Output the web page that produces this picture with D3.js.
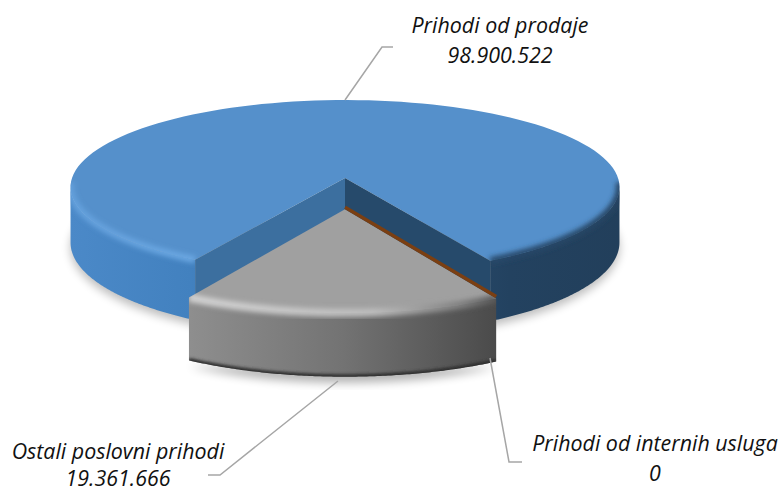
<!DOCTYPE html>
<html>
<head>
<meta charset="utf-8">
<script src="https://cdn.jsdelivr.net/npm/d3@7"></script>
<style>
html,body{margin:0;padding:0;background:#fff;}
svg{display:block;}
text{font-family:"Open Sans",sans-serif;font-style:italic;font-size:21.4px;fill:#111;}
</style>
</head>
<body>
<svg id="c" width="781" height="492"></svg>
<script>
const categories = ["Prihodi od prodaje", "Prihodi od internih usluga", "Ostali poslovni prihodi"];
const values = [98900522, 0, 19361666];
const valueLabels = ["98.900.522", "0", "19.361.666"];
const exploded = [0, 0.35, 0.35];
const labelX = [500, 655, 118];
const labelY = [33, 451, 459];
const valueY = [62.5, 480.5, 486];
const leaderLines = [
  [[345, 100], [382, 47], [393, 47]],
  [[490, 358], [509, 462], [522, 462]],
  [[338, 381], [220, 475], [208, 475]]
];

const svg = d3.select("#c");
const defs = svg.append("defs");

// perspective projection of the unit disc on to the page
const cx = 345, cy = 178, A = 273, B = 86, K = 0.103, DEPTH = 55;
const project = (u, v, z) => {
  const w = 1 + K * v;
  return [cx + A * u / w, cy - B * v / w + (z ? DEPTH / w : 0)];
};
const rim = (a, d, z) => project(Math.sin(a), Math.cos(a) - d, z);
const centre = (d, z) => project(0, -d, z);
const arcPts = (a0, a1, d, z) =>
  d3.range(0, 121).map(i => rim(a0 + (a1 - a0) * i / 120, d, z));
const line = d3.line();

const startDeg = 210;
const pie = d3.pie().sort(null).value(d => d)
  .startAngle(startDeg * Math.PI / 180)
  .endAngle((startDeg + 360) * Math.PI / 180);
const arcs = pie(values);

function grad(id, stops, x1, x2) {
  const g = defs.append("linearGradient").attr("id", id)
    .attr("gradientUnits", "userSpaceOnUse")
    .attr("x1", x1).attr("x2", x2).attr("y1", 0).attr("y2", 0);
  stops.forEach(s => g.append("stop").attr("offset", s[0]).attr("stop-color", s[1]));
}
grad("blueWall", [[0,"#4b89c8"],[0.22,"#4281bf"],[0.6,"#2a4d70"],[0.8,"#234260"],[1,"#223f5b"]], 70, 620);
grad("blueRim", [[0,"#64a0dc"],[0.22,"#6aa7e2"],[0.45,"#5590cb"],[0.75,"#28486a"],[1,"#264564"]], 70, 620);
grad("grayWall", [[0,"#8e8e8e"],[0.5,"#737373"],[1,"#4b4b4b"]], 190, 495);
grad("grayRim", [[0,"#d2d2d2"],[0.6,"#bdbdbd"],[0.9,"#7d7d7d"],[1,"#5a5a5a"]], 190, 495);
const blur = (id, s) => defs.append("filter").attr("id", id)
  .attr("x", "-20%").attr("y", "-40%").attr("width", "140%").attr("height", "180%")
  .append("feGaussianBlur").attr("stdDeviation", s);
blur("b2", 2.6); blur("b3", 1.6); blur("b6", 5);

const big = arcs[0], small = arcs[2], zero = arcs[1];
const dB = exploded[0], dS = exploded[2], dZ = exploded[1];

// angles at which the disc's outline turns back: the wall is seen only in front of them
const sideAngle = Math.acos(-K);
const leftSide = Math.PI * 2 - sideAngle;
const rightSide = Math.PI * 2 + sideAngle;

// soft shadows
svg.append("path").attr("filter", "url(#b6)").attr("fill", "#000").attr("opacity", 0.26)
  .attr("transform", "translate(0,5)")
  .attr("d", line(arcPts(sideAngle - 0.3, leftSide + 0.3, dB, true)) + "Z");
svg.append("path").attr("filter", "url(#b6)").attr("fill", "#000").attr("opacity", 0.3)
  .attr("transform", "translate(0,6)")
  .attr("d", line(arcPts(small.startAngle, small.endAngle, dS, true)) + "Z");

// large slice: outer wall, one piece on each side of the cut
const wallLeft = arcPts(big.startAngle, leftSide, dB, false).concat(arcPts(leftSide, big.startAngle, dB, true));
const wallRight = arcPts(rightSide, big.endAngle, dB, false).concat(arcPts(big.endAngle, rightSide, dB, true));
[wallLeft, wallRight].forEach(p =>
  svg.append("path").attr("fill", "url(#blueWall)").attr("d", line(p) + "Z"));

// large slice: top face
const topPts = [centre(dB, false)].concat(arcPts(big.startAngle, big.endAngle, dB, false));
svg.append("path").attr("fill", "#5590cb").attr("d", line(topPts) + "Z");

// large slice: bevel along the front edge, kept inside the silhouette
const blueClip = defs.append("clipPath").attr("id", "bc");
[wallLeft, wallRight, topPts].forEach(p => blueClip.append("path").attr("d", line(p) + "Z"));
const blueBevel = svg.append("g").attr("clip-path", "url(#bc)");
[[big.startAngle, leftSide + 0.05], [rightSide - 0.05, big.endAngle]].forEach(r => {
  blueBevel.append("path").attr("fill", "none").attr("stroke", "url(#blueRim)")
    .attr("stroke-width", 7).attr("filter", "url(#b2)")
    .attr("d", line(arcPts(r[0], r[1], dB, false)));
});

// large slice: cut faces
const face = (a, fill) => svg.append("path").attr("fill", fill).attr("d", line([
  centre(dB, false), rim(a, dB, false), rim(a, dB, true), centre(dB, true)
]) + "Z");
face(big.startAngle, "#3c6f9f");
face(big.endAngle, "#264a6b");

// small slice: outer wall
const sWall = arcPts(small.startAngle, small.endAngle, dS, false)
  .concat(arcPts(small.endAngle, small.startAngle, dS, true));
svg.append("path").attr("fill", "url(#grayWall)").attr("d", line(sWall) + "Z");

// small slice: dark lower rim
const clip = defs.append("clipPath").attr("id", "gw");
clip.append("path").attr("d", line(sWall) + "Z");
svg.append("g").attr("clip-path", "url(#gw)").append("path")
  .attr("fill", "none").attr("stroke", "#2e2e2e").attr("stroke-width", 5).attr("filter", "url(#b3)")
  .attr("d", line(arcPts(small.startAngle, small.endAngle, dS, true)));

// small slice: top face and bevel, kept inside the silhouette
const sTop = [centre(dS, false)].concat(arcPts(small.startAngle, small.endAngle, dS, false));
svg.append("path").attr("fill", "#a0a0a0").attr("d", line(sTop) + "Z");
const grayClip = defs.append("clipPath").attr("id", "gc");
grayClip.append("path").attr("d", line(sWall) + "Z");
grayClip.append("path").attr("d", line(sTop) + "Z");
svg.append("g").attr("clip-path", "url(#gc)").append("path")
  .attr("fill", "none").attr("stroke", "url(#grayRim)")
  .attr("stroke-width", 8).attr("filter", "url(#b2)")
  .attr("d", line(arcPts(small.startAngle, small.endAngle, dS, false)));

// zero-value slice: only its cut edge shows
svg.append("path").attr("fill", "none").attr("stroke", "#7b3f12").attr("stroke-width", 3.5)
  .attr("transform", "translate(0,-2)")
  .attr("d", line([centre(dZ, false), rim(zero.startAngle, dZ, false)]));

// leader lines
leaderLines.forEach(p => svg.append("path").attr("fill", "none")
  .attr("stroke", "#a6a6a6").attr("stroke-width", 1.5).attr("d", line(p)));

// labels
categories.forEach((c, i) => {
  svg.append("text").attr("x", labelX[i]).attr("y", labelY[i]).attr("text-anchor", "middle").text(c);
  svg.append("text").attr("x", labelX[i]).attr("y", valueY[i]).attr("text-anchor", "middle").text(valueLabels[i]);
});
</script>
</body>
</html>
